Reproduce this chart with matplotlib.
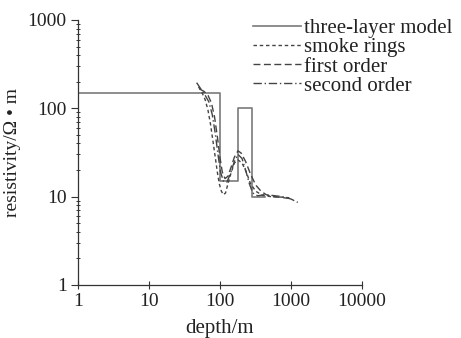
import numpy as np
import matplotlib
matplotlib.use('Agg')
import matplotlib.pyplot as plt
from matplotlib.ticker import FixedLocator, LogLocator, NullFormatter

plt.rcParams['font.family'] = ['Liberation Serif', 'DejaVu Serif']

# three-layer model (step profile)
model_depth = [1, 100, 100, 178, 178, 280, 280, 430]
model_rho = [150, 150, 15, 15, 100, 100, 10, 10]

# inversion results
smoke_depth = [50, 56, 62, 68, 74, 80, 86, 92, 98, 105, 112, 120, 130, 145, 160, 180, 205, 235, 270, 320, 400, 520, 700, 950]
smoke_rho = [175, 150, 125, 95, 65, 42, 28, 19, 14, 11.5, 10.5, 11, 14, 19, 24, 26, 24, 19, 14, 11.5, 10.3, 10, 9.9, 9.7]

first_depth = [52, 60, 68, 76, 84, 92, 100, 108, 118, 130, 145, 160, 180, 200, 230, 270, 320, 380, 450, 550, 700, 900]
first_rho = [165, 155, 140, 115, 80, 48, 28, 19, 16, 17, 22, 28, 33, 31, 25, 18, 13.5, 11.5, 10.5, 10, 9.8, 9.6]

second_depth = [47, 54, 62, 70, 78, 86, 94, 102, 112, 125, 140, 160, 180, 205, 230, 260, 290, 340, 420, 550, 750, 1000, 1250]
second_rho = [195, 165, 140, 118, 85, 52, 30, 19, 15, 14.5, 18, 25, 30, 27, 20, 14, 11, 10.2, 10.5, 10.3, 10, 9.4, 8.6]

x_ticks = [1, 10, 100, 1000, 10000]
y_ticks = [1, 10, 100, 1000]

fig = plt.figure(figsize=(4.61, 3.38), dpi=100)
ax = fig.add_axes([0.169, 0.157, 0.616, 0.784])

ax.plot(model_depth, model_rho, color='#7a7a7a', lw=1.2, label='three-layer model')
ax.plot(smoke_depth, smoke_rho, color='#444444', lw=1.0, ls=(0, (2.5, 2)), label='smoke rings')
ax.plot(first_depth, first_rho, color='#444444', lw=1.0, ls=(0, (5, 2.5)), label='first order')
ax.plot(second_depth, second_rho, color='#444444', lw=1.0, ls=(0, (6, 2, 1, 2)), label='second order')

ax.set_xscale('log')
ax.set_yscale('log')
ax.set_xlim(1, 10000)
ax.set_ylim(1, 1000)

ax.xaxis.set_major_locator(FixedLocator(x_ticks))
ax.yaxis.set_major_locator(FixedLocator(y_ticks))
ax.set_xticklabels([str(t) for t in x_ticks])
ax.set_yticklabels([str(t) for t in y_ticks])
ax.xaxis.set_minor_locator(LogLocator(base=10, subs=np.arange(2, 10)))
ax.yaxis.set_minor_locator(LogLocator(base=10, subs=np.arange(2, 10)))
ax.xaxis.set_minor_formatter(NullFormatter())
ax.yaxis.set_minor_formatter(NullFormatter())

ax.spines['top'].set_visible(False)
ax.spines['right'].set_visible(False)
for s in ['left', 'bottom']:
    ax.spines[s].set_color('#333333')
    ax.spines[s].set_linewidth(0.9)

ax.tick_params(axis='x', which='major', direction='inout', length=6, width=0.8, labelsize=14, pad=3, colors='#333333')
ax.tick_params(axis='x', which='minor', direction='in', length=3, width=0.7, colors='#333333')
ax.tick_params(axis='y', which='major', direction='out', length=5, width=0.8, labelsize=14, pad=3, colors='#333333')
ax.tick_params(axis='y', which='minor', direction='inout', length=3, width=0.7, colors='#333333')
for lbl in ax.get_xticklabels() + ax.get_yticklabels():
    lbl.set_color('#222222')

ax.set_xlabel('depth/m', fontsize=15, labelpad=6, color='#222222')
ax.set_ylabel('resistivity/\u03a9 \u2022 m', fontsize=14, labelpad=5, color='#222222')

leg = ax.legend(loc='upper left', bbox_to_anchor=(0.548, 0.945), bbox_transform=fig.transFigure,
                frameon=False, fontsize=15, handlelength=2.3, handletextpad=0.15,
                labelspacing=-0.02, borderpad=0, borderaxespad=0)
for t in leg.get_texts():
    t.set_color('#222222')

fig.savefig('out.png', dpi=100)
